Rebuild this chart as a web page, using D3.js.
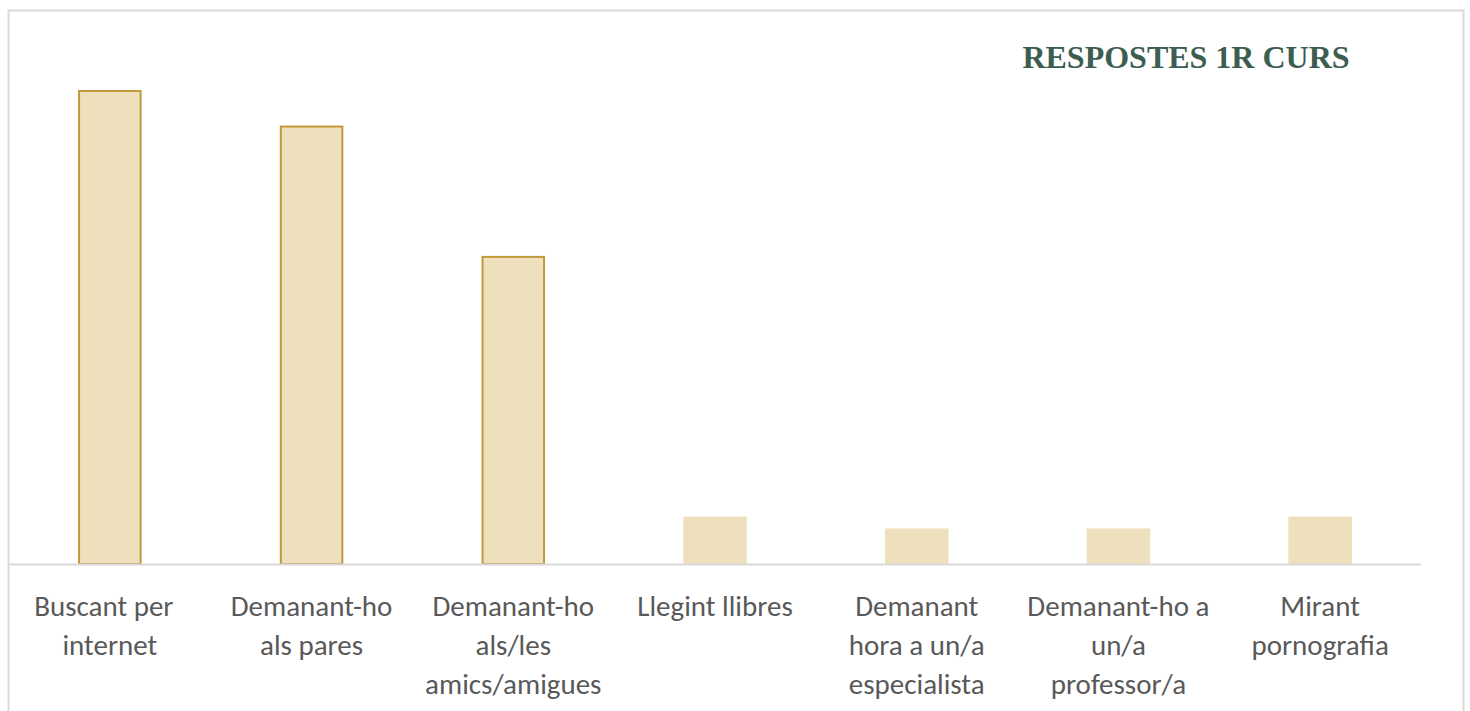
<!DOCTYPE html>
<html><head><meta charset="utf-8">
<script src="https://cdn.jsdelivr.net/npm/d3@7"></script>
<style>body{margin:0;background:#fff;}svg{display:block;}</style>
</head><body>
<svg id="c" width="1470" height="711"></svg>
<script>
const categories = [
  ["Buscant per","internet"],
  ["Demanant-ho","als pares"],
  ["Demanant-ho","als/les","amics/amigues"],
  ["Llegint llibres"],
  ["Demanant","hora a un/a","especialista"],
  ["Demanant-ho a","un/a","professor/a"],
  ["Mirant","pornografia"]
];
const values = [40, 37, 26, 4, 3, 3, 4];
const outlined = [true, true, true, false, false, false, false];
const title = "RESPOSTES 1R CURS";

const svg = d3.select("#c");
// outer frame
svg.append("rect").attr("x",8.5).attr("y",10.5).attr("width",1455).attr("height",720)
  .attr("fill","none").attr("stroke","#d9d9d9").attr("stroke-width",2);

const x = d3.scaleBand().domain(d3.range(categories.length)).range([9,1421]).paddingInner(0.685).paddingOuter(0.3425);
const y = d3.scaleLinear().domain([0,40]).range([564,90]);

svg.selectAll("rect.bar").data(values).join("rect").attr("class","bar")
  .attr("x",(d,i)=>x(i)+(outlined[i]?1:0))
  .attr("width",(d,i)=>x.bandwidth()-(outlined[i]?2:0))
  .attr("y",(d,i)=>y(d)+(outlined[i]?1:0))
  .attr("height",(d,i)=>y(0)-y(d)-(outlined[i]?1:0))
  .attr("fill","#efe0bd")
  .attr("stroke",(d,i)=>outlined[i]?"#c1993a":"none").attr("stroke-width",2);

svg.append("line").attr("x1",9).attr("x2",1421).attr("y1",564.5).attr("y2",564.5)
  .attr("stroke","#d9d9d9").attr("stroke-width",2);

const lab = svg.append("g").attr("font-family","Carlito, Calibri, Lato, sans-serif").attr("font-size",29).attr("fill","#595959").attr("text-anchor","middle");
categories.forEach((lines,i)=>{
  const cx = x(i)+x.bandwidth()/2;
  lines.forEach((t,j)=>{
    lab.append("text").attr("x",cx - (i===0 && j===0 ? 6 : 0)).attr("y",616+j*39).text(t);
  });
});

svg.append("text").attr("x",1186).attr("y",67.5).attr("text-anchor","middle")
  .attr("font-family","'Liberation Serif','Times New Roman',serif").attr("font-weight","bold")
  .attr("font-size",32).attr("fill","#3b5e50").text(title);
</script>
</body></html>
